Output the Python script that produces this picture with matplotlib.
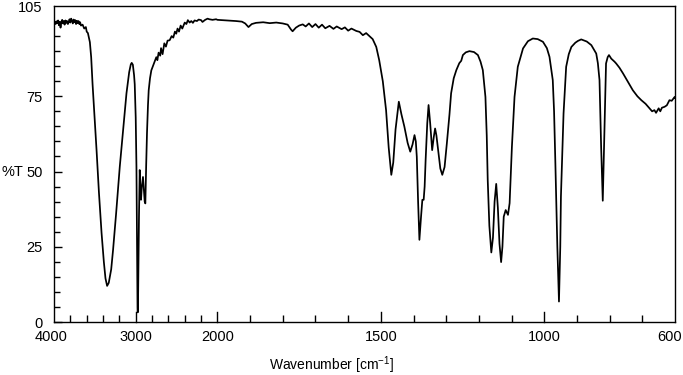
import numpy as np
import matplotlib
matplotlib.use("Agg")
import matplotlib.pyplot as plt
import matplotlib.transforms as mtransforms
from matplotlib.ticker import FixedLocator, NullFormatter

plt.rcParams['font.family'] = ['Liberation Sans', 'DejaVu Sans']
plt.rcParams['mathtext.default'] = 'regular'

# wavenumber (cm-1) and %T
wavenumber = [
    4000, 3990, 3980, 3970, 3960, 3950, 3940, 3930, 3920, 3910, 3900, 3890, 3880,
    3870, 3860, 3850, 3840, 3830, 3820, 3810, 3800, 3790, 3780, 3770, 3760, 3750,
    3740, 3730, 3720, 3710, 3700, 3690, 3680, 3670, 3650, 3630, 3610, 3600, 3585,
    3561, 3545, 3528, 3510, 3479, 3450, 3418, 3390, 3370, 3350, 3330, 3300, 3277,
    3240, 3195, 3150, 3113, 3080, 3060, 3049, 3035, 3020, 3012, 3000, 2991, 2983,
    2978, 2975, 2970, 2960, 2951, 2945, 2935, 2925, 2911, 2900, 2890, 2882, 2872,
    2862, 2850, 2841, 2825, 2809, 2790, 2770, 2748, 2735, 2720, 2700, 2690, 2671,
    2650, 2630, 2610, 2585, 2560, 2540, 2520, 2504, 2488, 2470, 2450, 2430, 2400,
    2380, 2362, 2340, 2320, 2300, 2280, 2250, 2230, 2200, 2183, 2150, 2120, 2100,
    2060, 2016, 2000, 1970, 1943, 1925, 1915, 1905, 1895, 1882, 1860, 1840, 1820,
    1800, 1785, 1775, 1770, 1760, 1750, 1739, 1730, 1720, 1710, 1700, 1690, 1680,
    1670, 1657, 1645, 1635, 1620, 1610, 1600, 1590, 1575, 1565, 1555, 1545, 1535,
    1525, 1514, 1505, 1494, 1484, 1476, 1468, 1462, 1455, 1445, 1437, 1428, 1418,
    1410, 1403, 1397, 1393, 1390, 1386, 1382, 1377, 1373, 1369, 1366, 1363, 1358,
    1354, 1349, 1343, 1338, 1334, 1330, 1326, 1318, 1312, 1305, 1298, 1290, 1285,
    1277, 1269, 1260, 1254, 1249, 1240, 1229, 1215, 1203, 1195, 1188, 1180, 1176,
    1173, 1168, 1162, 1157, 1152, 1147, 1142, 1137, 1132, 1128, 1124, 1118, 1111,
    1106, 1099, 1091, 1081, 1065, 1050, 1035, 1020, 1004, 992, 984, 974, 970,
    966, 960, 955, 951, 949, 941, 933, 925, 917, 905, 897, 887, 870,
    856, 841, 836, 831, 826, 821, 816, 811, 806, 802, 795, 785, 780,
    770, 759, 745, 729, 715, 703, 690, 678, 670, 663, 658, 650, 645,
    640, 632, 625, 617, 610, 601, 600,
]
transmittance = [
    99.5, 99.8, 99.0, 99.9, 99.3, 100.2, 98.6, 99.8, 97.8, 99.6, 100.4, 99.2, 100.0,
    98.8, 100.2, 99.4, 100.0, 99.0, 99.7, 100.6, 99.5, 100.8, 100.1, 99.2, 100.5, 99.6,
    100.3, 99.0, 100.1, 99.3, 100.0, 99.0, 99.6, 98.5, 98.8, 97.5, 98.0, 96.5, 96.0,
    93.0, 88.0, 79.0, 71.0, 57.0, 43.0, 29.6, 20.0, 14.5, 12.0, 13.0, 17.5, 24.0,
    36.0, 51.6, 65.0, 76.0, 83.0, 85.6, 86.1, 85.5, 82.0, 79.0, 68.0, 51.6, 25.0,
    5.0, 3.2, 10.0, 35.0, 50.5, 46.0, 40.6, 45.0, 48.2, 44.0, 40.0, 39.4, 52.0,
    62.7, 72.0, 77.0, 81.0, 83.6, 85.0, 86.5, 88.0, 87.0, 89.5, 88.5, 91.0, 89.0,
    92.6, 91.5, 93.5, 93.6, 95.0, 94.5, 96.5, 95.8, 97.5, 96.5, 98.5, 97.5, 99.5,
    99.0, 100.3, 99.5, 100.0, 99.4, 100.2, 100.0, 100.5, 100.3, 99.7, 100.4, 100.8, 100.6,
    100.4, 100.6, 100.4, 100.2, 100.0, 99.8, 99.2, 98.0, 99.0, 99.4, 99.6, 99.3, 99.5,
    99.2, 98.8, 97.2, 96.6, 97.8, 98.5, 98.9, 98.2, 99.2, 98.0, 99.0, 97.8, 98.8,
    97.6, 98.4, 97.4, 98.2, 97.3, 97.9, 96.8, 97.5, 96.7, 96.4, 95.3, 96.0, 95.0,
    94.0, 91.4, 87.0, 80.0, 70.4, 58.0, 48.9, 53.0, 64.0, 73.2, 69.0, 64.9, 59.5,
    56.6, 59.0, 62.1, 60.0, 54.9, 40.0, 27.3, 35.0, 40.6, 40.6, 45.0, 53.8, 66.0,
    72.1, 66.0, 57.1, 61.5, 64.3, 62.0, 58.3, 51.0, 48.9, 51.5, 59.4, 69.0, 76.0,
    81.0, 83.7, 86.0, 86.8, 88.7, 89.6, 90.0, 89.7, 88.7, 86.5, 83.7, 74.8, 62.0,
    47.2, 32.0, 23.1, 28.0, 40.0, 45.9, 38.0, 26.0, 19.9, 25.0, 35.0, 37.2, 35.6,
    39.5, 58.2, 74.8, 84.8, 90.9, 93.3, 94.2, 94.0, 93.1, 91.0, 88.1, 80.4, 70.0,
    52.7, 25.0, 6.8, 25.0, 41.7, 69.3, 84.8, 89.0, 91.4, 92.8, 93.4, 93.9, 93.2,
    92.0, 89.2, 86.0, 80.4, 58.2, 40.3, 63.8, 85.9, 88.0, 88.7, 87.5, 86.5, 85.9,
    84.5, 82.6, 80.0, 77.0, 75.0, 73.7, 72.5, 71.0, 70.0, 70.4, 69.5, 71.0, 70.0,
    71.2, 71.5, 72.0, 73.7, 73.5, 74.8, 74.5,
]

x_labels = [4000, 3000, 2000, 1500, 1000, 600]
x_major = [3000, 2000, 1500, 1000]
x_minor = [3800, 3600, 3400, 3200, 2800, 2600, 2400, 2200,
           1900, 1800, 1700, 1600, 1400, 1300, 1200, 1100, 900, 800, 700]


# axis compressed 4:1 above 2000 cm-1
def fwd(x):
    x = np.asarray(x, dtype=float)
    return np.where(x > 2000, 2000 + (x - 2000) / 4.0, x)


def inv(u):
    u = np.asarray(u, dtype=float)
    return np.where(u > 2000, 2000 + (u - 2000) * 4.0, u)


fig = plt.figure(figsize=(6.83, 3.75), dpi=100)
ax = fig.add_axes([54 / 683, (375 - 322) / 375, (675 - 54) / 683, (322 - 6) / 375])

ax.plot(wavenumber, transmittance, color='black', lw=1.25)

ax.set_xscale('function', functions=(fwd, inv))
ax.set_xlim(4000, 600)
ax.set_ylim(0, 105)

# x ticks: labels with no tick, then major + minor tick marks
ax.xaxis.set_major_locator(FixedLocator(x_labels))
ax.set_xticklabels([str(v) for v in x_labels])
ax.xaxis.set_minor_locator(FixedLocator(x_minor))
ax.xaxis.set_minor_formatter(NullFormatter())
ax.tick_params(axis='x', which='major', direction='in', length=0, pad=6, labelsize=10.5)
ax.tick_params(axis='x', which='minor', direction='in', length=5, width=1)
for v in x_major:
    ax.plot([v, v], [0, 3.3], color='black', lw=1, clip_on=False)

# nudge end labels like the reference
xl = ax.get_xticklabels()
xl[0].set_transform(xl[0].get_transform() + mtransforms.ScaledTranslation(-3 / 100, 0, fig.dpi_scale_trans))
xl[-1].set_transform(xl[-1].get_transform() + mtransforms.ScaledTranslation(-5 / 100, 0, fig.dpi_scale_trans))

ax.yaxis.set_major_locator(FixedLocator([0, 25, 50, 75]))
ax.yaxis.set_minor_locator(FixedLocator([v for v in range(5, 105, 5) if v % 25 != 0]))
ax.yaxis.set_minor_formatter(NullFormatter())
ax.tick_params(axis='y', which='major', direction='in', length=6, width=1, pad=8, labelsize=10.5)
ax.tick_params(axis='y', which='minor', direction='in', length=4.3, width=1)
ax.text(-0.018, 0.994, '105', transform=ax.transAxes, ha='right', va='center', fontsize=10.5)

for s in ax.spines.values():
    s.set_linewidth(1)

fig.text(12 / 683, 1 - 172 / 375, '%T', ha='center', va='center', fontsize=10.5)
fig.text(332 / 683, 1 - 365 / 375, 'Wavenumber [cm$^{-1}$]', ha='center', va='center', fontsize=10)

fig.savefig('out.png', dpi=100)
